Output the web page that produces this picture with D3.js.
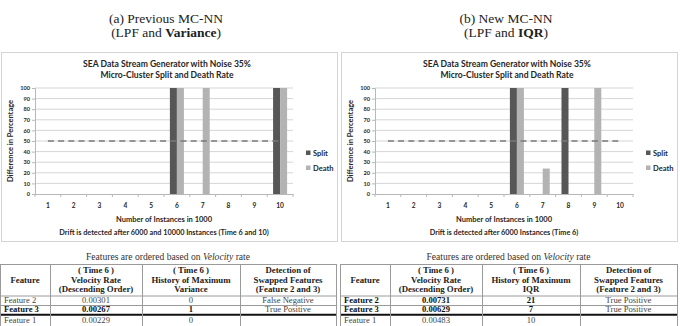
<!DOCTYPE html>
<html lang="en">
<head>
    <meta charset="UTF-8">
    <title>MC-NN split and death rate</title>
    <script src="https://d3js.org/d3.v7.min.js"></script>
    <style>
        body {
            margin: 0;
            background: white;
        }

        .serif {
            font-family: "Liberation Serif", "Times New Roman", serif;
        }

        .sans {
            font-family: Lato, "Open Sans", sans-serif;
            font-weight: bold;
        }
    </style>
</head>
<body>
    <svg id="fig" width="680" height="326"></svg>
    <script>
        // chart data
        const categories = ["1", "2", "3", "4", "5", "6", "7", "8", "9", "10"];
        const seriesNames = ["Split", "Death"];
        const splitPrev = [0, 0, 0, 0, 0, 100, 0, 0, 0, 100];
        const deathPrev = [0, 0, 0, 0, 0, 100, 100, 0, 0, 100];
        const splitNew = [0, 0, 0, 0, 0, 100, 0, 100, 0, 0];
        const deathNew = [0, 0, 0, 0, 0, 100, 24, 0, 100, 0];
        const threshold = [50, 50, 50, 50, 50, 50, 50, 50, 50, 50];
        const yTicks = [0, 10, 20, 30, 40, 50, 60, 70, 80, 90, 100];

        // table data
        const tableHeader = [
            ["Feature"],
            ["( Time 6 )", "Velocity Rate", "(Descending Order)"],
            ["( Time 6 )", "History of Maximum", "Variance"],
            ["Detection of", "Swapped Features", "(Feature 2 and 3)"]
        ];
        const featuresPrev = ["Feature 2", "Feature 3", "Feature 1"];
        const velocityPrev = ["0.00301", "0.00267", "0.00229"];
        const historyPrev = ["0", "1", "0"];
        const detectionPrev = ["False Negative", "True Positive", ""];
        const boldPrev = [false, true, false];

        const featuresNew = ["Feature 2", "Feature 3", "Feature 1"];
        const velocityNew = ["0.00731", "0.00629", "0.00483"];
        const historyNew = ["21", "7", "10"];
        const detectionNew = ["True Positive", "True Positive", ""];
        const boldNew = [true, true, false];

        const svg = d3.select("#fig");

        const splitColor = "#575757";
        const deathColor = "#b3b3b3";
        const chartText = "#262626";

        function drawPanel(ox, heading, headingBold, split, death, driftText) {
            const g = svg.append("g").attr("transform", `translate(${ox},0)`);

            // heading above the chart
            g.append("text")
                .attr("class", "serif")
                .attr("x", 166).attr("y", 23)
                .attr("text-anchor", "middle")
                .attr("font-size", 13.5)
                .attr("fill", "#222")
                .text(heading);
            const h2 = g.append("text")
                .attr("class", "serif")
                .attr("x", 166).attr("y", 37)
                .attr("text-anchor", "middle")
                .attr("font-size", 13.5)
                .attr("fill", "#222");
            h2.append("tspan").text("(LPF and ");
            h2.append("tspan").attr("font-weight", "bold").text(headingBold);
            h2.append("tspan").text(")");

            // chart frame
            g.append("rect")
                .attr("x", 1.5).attr("y", 52.5)
                .attr("width", 336).attr("height", 189)
                .attr("fill", "white")
                .attr("stroke", "#d4d4d4");

            const x0 = d3.scaleBand()
                .domain(categories)
                .range([35, 293]);

            const x1 = d3.scaleBand()
                .domain(seriesNames)
                .range([0, x0.bandwidth()])
                .paddingOuter(0.84);

            const y = d3.scaleLinear()
                .domain([0, 100])
                .range([194, 88]);

            // gridlines
            g.append("g")
                .selectAll("line")
                .data(yTicks.slice(1))
                .enter().append("line")
                .attr("x1", 35).attr("x2", 293)
                .attr("y1", d => y(d)).attr("y2", d => y(d))
                .attr("stroke", "#d0d0d0")
                .attr("stroke-width", 0.9);

            // y axis
            const yAxis = g.append("g")
                .attr("transform", "translate(35,0)")
                .call(d3.axisLeft(y).tickValues(yTicks).tickSize(3).tickPadding(2));
            yAxis.select(".domain").attr("stroke", "#b8b8b8");
            yAxis.selectAll(".tick line").attr("stroke", "#b8b8b8");
            yAxis.selectAll("text")
                .attr("class", "sans")
                .attr("font-size", 5.6)
                .attr("fill", chartText);

            // bars
            const rows = categories.map((c, i) => ({ cat: c, Split: split[i], Death: death[i] }));
            g.append("g")
                .selectAll("g")
                .data(rows)
                .enter().append("g")
                .attr("transform", d => `translate(${x0(d.cat)},0)`)
                .selectAll("rect")
                .data(d => seriesNames.map(s => ({ key: s, value: d[s] })))
                .enter().append("rect")
                .attr("x", d => x1(d.key))
                .attr("width", x1.bandwidth())
                .attr("y", d => y(d.value))
                .attr("height", d => y(0) - y(d.value))
                .attr("fill", d => d.key === "Split" ? splitColor : deathColor);

            // threshold line
            const line = d3.line()
                .x((d, i) => x0(categories[i]) + x0.bandwidth() / 2)
                .y(d => y(d));
            g.append("path")
                .datum(threshold)
                .attr("d", line)
                .attr("fill", "none")
                .attr("stroke", "#7a7a7a")
                .attr("stroke-width", 1.4)
                .attr("stroke-dasharray", "6,4.2");

            // x axis
            const xAxis = g.append("g")
                .attr("transform", "translate(0,194)")
                .call(d3.axisBottom(x0).tickSize(0).tickPadding(9));
            xAxis.select(".domain").attr("stroke", "#b8b8b8");
            xAxis.selectAll("text")
                .attr("class", "sans")
                .attr("font-size", 6.6)
                .attr("fill", chartText);
            const bounds = categories.map(c => x0(c)).concat([x0.range()[1]]);
            g.append("g")
                .selectAll("line")
                .data(bounds)
                .enter().append("line")
                .attr("x1", d => d).attr("x2", d => d)
                .attr("y1", 194).attr("y2", 197)
                .attr("stroke", "#b8b8b8");

            // titles
            g.append("text")
                .attr("class", "sans")
                .attr("x", 167).attr("y", 67)
                .attr("text-anchor", "middle")
                .attr("font-size", 8.6)
                .attr("fill", chartText)
                .text("SEA Data Stream Generator with Noise 35%");
            g.append("text")
                .attr("class", "sans")
                .attr("x", 167).attr("y", 78)
                .attr("text-anchor", "middle")
                .attr("font-size", 8.6)
                .attr("fill", chartText)
                .text("Micro-Cluster Split and Death Rate");

            g.append("text")
                .attr("class", "sans")
                .attr("transform", "translate(13,141) rotate(-90)")
                .attr("text-anchor", "middle")
                .attr("font-size", 7.5)
                .attr("fill", chartText)
                .text("Difference in Percentage");

            g.append("text")
                .attr("class", "sans")
                .attr("x", 164).attr("y", 222)
                .attr("text-anchor", "middle")
                .attr("font-size", 7.5)
                .attr("fill", chartText)
                .text("Number of Instances in 1000");
            g.append("text")
                .attr("class", "sans")
                .attr("x", 164).attr("y", 235)
                .attr("text-anchor", "middle")
                .attr("font-size", 7.3)
                .attr("fill", chartText)
                .text(driftText);

            // legend
            const legend = g.append("g")
                .selectAll("g")
                .data(seriesNames)
                .enter().append("g")
                .attr("transform", (d, i) => `translate(306,${153 + i * 15})`);
            legend.append("rect")
                .attr("x", 0).attr("y", -2.5)
                .attr("width", 4.5).attr("height", 4.5)
                .attr("fill", d => d === "Split" ? splitColor : deathColor);
            legend.append("text")
                .attr("class", "sans")
                .attr("x", 7).attr("y", 2.5)
                .attr("font-size", 7.5)
                .attr("fill", chartText)
                .text(d => d);
        }

        function drawTable(ox, colEdges, lastHeader, features, velocity, history, detection, bold) {
            const g = svg.append("g").attr("transform", `translate(${ox},0)`);
            const rowEdges = [264, 295.5, 305, 314.8, 330];
            const tableW = colEdges[colEdges.length - 1];

            const caption = g.append("text")
                .attr("class", "serif")
                .attr("x", tableW / 2).attr("y", 260)
                .attr("text-anchor", "middle")
                .attr("font-size", 9.6)
                .attr("fill", "#333");
            caption.append("tspan").text("Features are ordered based on ");
            caption.append("tspan").attr("font-style", "italic").text("Velocity");
            caption.append("tspan").text(" rate");

            // grid
            g.append("g")
                .selectAll("line")
                .data(rowEdges.slice(0, 3))
                .enter().append("line")
                .attr("x1", 0).attr("x2", tableW)
                .attr("y1", d => d + 0.5).attr("y2", d => d + 0.5)
                .attr("stroke", "#9a9a9a");
            g.append("line")
                .attr("x1", 0).attr("x2", tableW)
                .attr("y1", rowEdges[3]).attr("y2", rowEdges[3])
                .attr("stroke", "#111")
                .attr("stroke-width", 2);
            g.append("g")
                .selectAll("line")
                .data(colEdges)
                .enter().append("line")
                .attr("x1", d => d + 0.5).attr("x2", d => d + 0.5)
                .attr("y1", rowEdges[0]).attr("y2", 326)
                .attr("stroke", "#9a9a9a");

            // header
            const header = tableHeader.map((h, i) => i === 2 ? [h[0], h[1], lastHeader] : h);
            header.forEach((lines, c) => {
                const cx = (colEdges[c] + colEdges[c + 1]) / 2;
                const t = g.append("text")
                    .attr("class", "serif")
                    .attr("text-anchor", "middle")
                    .attr("font-weight", "bold")
                    .attr("font-size", 8.8)
                    .attr("fill", "#222");
                const y0 = lines.length === 1 ? 282.5 : 272.7;
                lines.forEach((s, k) => {
                    t.append("tspan")
                        .attr("x", cx)
                        .attr("y", y0 + k * 9.8)
                        .text(s);
                });
            });

            // body rows
            const rowBase = [302.6, 312.4, 322.8];
            features.forEach((f, r) => {
                const cells = [f, velocity[r], history[r], detection[r]];
                cells.forEach((s, c) => {
                    const isBold = bold[r] && c < 3;
                    g.append("text")
                        .attr("class", "serif")
                        .attr("x", c === 0 ? colEdges[0] + 4 : (colEdges[c] + colEdges[c + 1]) / 2)
                        .attr("y", rowBase[r])
                        .attr("text-anchor", c === 0 ? "start" : "middle")
                        .attr("font-weight", isBold ? "bold" : "normal")
                        .attr("font-size", 8.6)
                        .attr("fill", isBold ? "#111" : "#444")
                        .text(s);
                });
            });
        }

        drawPanel(0, "(a) Previous MC-NN", "Variance", splitPrev, deathPrev,
            "Drift is detected after 6000 and 10000 Instances (Time 6 and 10)");
        drawPanel(340, "(b) New MC-NN", "IQR", splitNew, deathNew,
            "Drift is detected after 6000 Instances (Time 6)");

        drawTable(0, [0, 50, 142, 240, 336], "Variance",
            featuresPrev, velocityPrev, historyPrev, detectionPrev, boldPrev);
        drawTable(340, [0, 50, 142, 240, 337], "IQR",
            featuresNew, velocityNew, historyNew, detectionNew, boldNew);
    </script>
</body>
</html>
